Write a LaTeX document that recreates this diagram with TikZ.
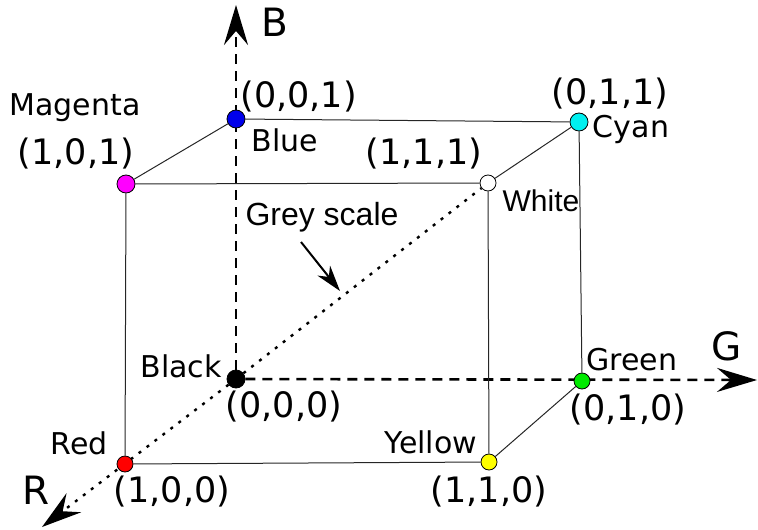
\documentclass[tikz,border=0pt]{standalone}
\usepackage{fontspec}
\setmainfont{DejaVu Sans}
\newfontfamily\arialfont{Liberation Sans}
\usetikzlibrary{arrows.meta, backgrounds}

\definecolor{rgbred}{RGB}{255,0,0}
\definecolor{rgbgreen}{RGB}{0,235,0}
\definecolor{rgbblue}{RGB}{0,0,235}
\definecolor{rgbyellow}{RGB}{255,255,0}
\definecolor{rgbcyan}{RGB}{0,240,240}
\definecolor{rgbmagenta}{RGB}{255,0,255}

\begin{document}
\begin{tikzpicture}[
    x=0.5pt, y=-0.5pt,
    vertex/.style={circle, draw=black, line width=0.4pt, inner sep=0pt, minimum size=8pt},
    bigvertex/.style={vertex, minimum size=9pt},
    cubeedge/.style={draw=black!85, line width=0.5pt},
    axisline/.style={line width=1.3pt, dash pattern=on 5pt off 3.5pt,
        -{Stealth[length=20pt, width=12pt, inset=7pt]}},
    diagline/.style={line width=1.2pt, dash pattern=on 1.5pt off 3.5pt},
    triple/.style={font=\fontsize{17.5}{19}\selectfont, inner sep=0pt},
    colname/.style={font=\fontsize{15}{17}\selectfont, inner sep=0pt},
    axisname/.style={font=\fontsize{19.5}{21}\selectfont, inner sep=0pt}
]
\useasboundingbox (0,0) rectangle (758,529);

% corners of the colour cube
\node[bigvertex, fill=black]      (black)   at (236,379) {};
\node[vertex, fill=rgbred]        (red)     at (125,464) {};
\node[vertex, fill=rgbyellow]     (yellow)  at (489,462) {};
\node[vertex, fill=rgbgreen]      (green)   at (582,381) {};
\node[bigvertex, fill=rgbblue]    (blue)    at (236,119) {};
\node[bigvertex, fill=rgbmagenta] (magenta) at (126,184) {};
\node[vertex, fill=white]         (white)   at (488,183) {};
\node[bigvertex, fill=rgbcyan]    (cyan)    at (579,122) {};

% ends of the axes
\coordinate (btip) at (236,5);
\coordinate (gtip) at (757,380);
\coordinate (rtip) at (42,527);

\begin{scope}[on background layer]
    % axes
    \draw[axisline] (black) -- (btip);
    \draw[axisline] (black) -- (gtip);
    \draw[diagline, -{Stealth[length=20pt, width=12pt, inset=7pt]}] (black) -- (rtip);
    % grey diagonal
    \draw[diagline] (black) -- (white);
    % cube edges
    \draw[cubeedge] (magenta) -- (blue) -- (cyan) -- (white) -- (magenta);
    \draw[cubeedge] (magenta) -- (red) -- (yellow) -- (green) -- (cyan);
    \draw[cubeedge] (yellow) -- (white);
\end{scope}

% axis names
\node[axisname] (bname) at (275,22) {B};
\node[axisname] (gname) at (727,346) {G};
\node[axisname] (rname) at (36,490) {R};

% colour names and coordinates
\node[colname] (blacklbl)   at (181,366) {Black};
\node[triple]  (blackxyz)   at (284,407) {(0,0,0)};
\node[colname] (redlbl)     at (79,443)  {Red};
\node[triple]  (redxyz)     at (172,492) {(1,0,0)};
\node[colname] (yellowlbl)  at (431,442) {Yellow};
\node[triple]  (yellowxyz)  at (489,492) {(1,1,0)};
\node[colname] (greenlbl)   at (632,360) {Green};
\node[triple]  (greenxyz)   at (628,410) {(0,1,0)};
\node[colname] (bluelbl)    at (285,140) {Blue};
\node[triple, anchor=west] (bluexyz) at (240,97) {(0,0,1)};
\node[colname] (magentalbl) at (75,108)  {Magenta};
\node[triple]  (magentaxyz) at (76,154)  {(1,0,1)};
\node[colname, font=\arialfont\fontsize{15}{17}\selectfont] (whitelbl) at (541,201) {White};
\node[triple]  (whitexyz)   at (424,154) {(1,1,1)};
\node[colname] (cyanlbl)    at (631,129) {Cyan};
\node[triple]  (cyanxyz)    at (610,94)  {(0,1,1)};

% grey scale pointer
\node[colname, font=\arialfont\fontsize{16}{18}\selectfont] (greylbl) at (322,217) {Grey scale};
\coordinate (greyfrom) at (301,242);
\coordinate (greyto) at (340,291);
\draw[line width=1pt, -{Stealth[length=13pt, width=8pt, inset=4pt]}] (greyfrom) -- (greyto);

\end{tikzpicture}
\end{document}
